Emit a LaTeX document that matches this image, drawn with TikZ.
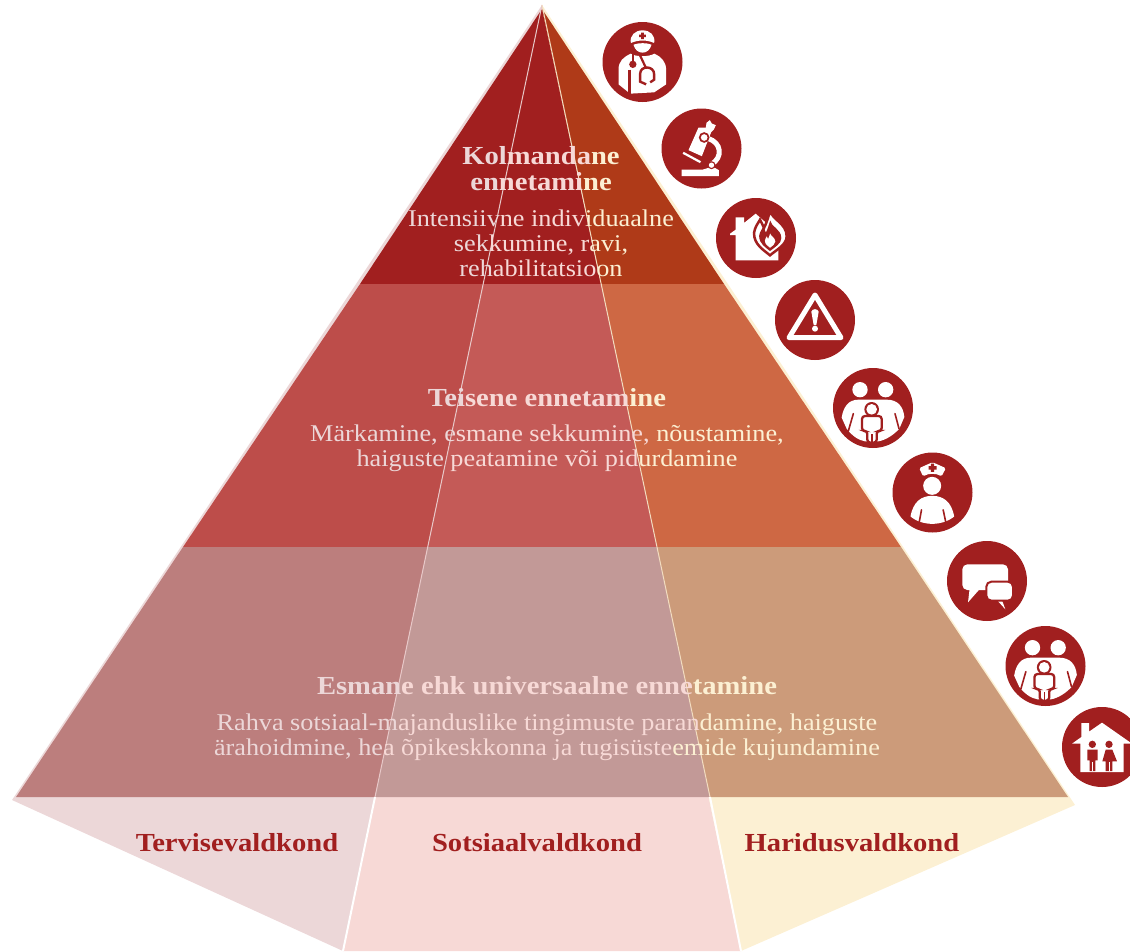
\documentclass[tikz,border=0pt]{standalone}
\usepackage{fontspec}
\setmainfont{Liberation Serif}[FakeStretch=1.093,BoldFeatures={FakeStretch=1.10}]
\definecolor{iconred}{HTML}{A11F1F}
\definecolor{wedgeA}{HTML}{ECD7D8}
\definecolor{wedgeB}{HTML}{F7D9D6}
\definecolor{wedgeC}{HTML}{FCF0D3}
\definecolor{topA}{HTML}{A11F1F}
\definecolor{topC}{HTML}{AF3A18}
\definecolor{midA}{HTML}{BD4D4A}
\definecolor{midB}{HTML}{C45A57}
\definecolor{midC}{HTML}{CE6844}
\definecolor{lowA}{HTML}{BC7E7D}
\definecolor{lowB}{HTML}{C29997}
\definecolor{lowC}{HTML}{CC9B7A}
\definecolor{lineA}{HTML}{E8C8C8}
\definecolor{lineC}{HTML}{F2DCC0}
\newcommand{\colA}{\color{wedgeA}}
\newcommand{\colB}{\color{wedgeB}}
\newcommand{\colC}{\color{wedgeC}}
\newcommand{\flameshape}{(1,-77) .. controls (5,-50) and (50,-40) .. (50,0) .. controls (50,25) and (20,40) .. (0,57) .. controls (-20,40) and (-48,25) .. (-48,-10) .. controls (-45,-30) and (-35,-40) .. (-30,-50) .. controls (-25,-40) and (-20,-30) .. (-18,-25) .. controls (-10,-40) and (-5,-60) .. (1,-77) -- cycle}
\tikzset{
  zoomed/.style n args={2}{x=0.3333pt,y=-0.3333pt,shift={(-#1,-#2)}},
  disc/.style={fill=iconred,draw=none},
  bold head/.style={font=\fontsize{26}{26}\selectfont\bfseries,align=center,anchor=base,inner sep=0pt},
  body text/.style={font=\fontsize{24}{25}\selectfont,align=center,anchor=base,inner sep=0pt},
  field label/.style={font=\fontsize{26}{26}\selectfont\bfseries,text=iconred,anchor=base,inner sep=0pt},
  slit/.style={iconred,line width=1.6pt,line cap=round},
  pics/doctor/.style={code={
    \fill[disc] (0,0) circle (40pt);
    \begin{scope}[zoomed={157}{155}]
      \fill[white] (122,98) .. controls (118,75) and (135,60) .. (157,60) .. controls (180,60) and (196,75) .. (192,98) .. controls (170,88) and (145,88) .. (122,98) -- cycle;
      \fill[iconred] (153,67) rectangle (161,86) (147,73) rectangle (167,80);
      \fill[white] (130,103) .. controls (145,97) and (170,97) .. (184,103) .. controls (180,118) and (170,127) .. (157,127) .. controls (144,127) and (134,118) .. (130,103) -- cycle;
      \fill[white] (85,222) -- (85,178) .. controls (85,152) and (100,140) .. (122,130) .. controls (135,140) and (178,140) .. (192,130) .. controls (215,140) and (228,155) .. (228,180) -- (228,222) -- (192,246) -- (120,250) -- cycle;
      \draw[iconred,line width=2.4pt] (118,178) -- (118,256);
      \draw[iconred,line width=2.2pt] (128,132) -- (128,155);
      \fill[iconred] (128,162) circle (11);
      \draw[iconred,line width=2.4pt] (168,222) -- (150,214) -- (150,190) .. controls (150,165) and (192,165) .. (192,192) -- (192,208) -- (180,216);
      \draw[iconred,line width=2.2pt] (150,136) -- (167,172);
    \end{scope}
  }},
  pics/microscope/.style={code={
    \fill[disc] (0,0) circle (40pt);
    \begin{scope}[zoomed={335}{415}]
      \fill[white] (275,498) -- (275,478) -- (340,478) .. controls (350,478) and (355,470) .. (365,470) .. controls (375,470) and (380,478) .. (387,480) -- (387,498) -- cycle;
      \draw[white,line width=5pt] (355,385) .. controls (395,397) and (400,442) .. (365,462);
      \fill[white] (296,420) -- (326,352) -- (348,352) -- (350,338) -- (360,330) -- (366,340) -- (378,345) -- (372,358) -- (364,366) -- (336,438) -- cycle;
      \draw[white,line width=2.2pt] (280,428) -- (332,456);
      \fill[iconred] (343,382) circle (16);
      \fill[white] (343,382) circle (10);
      \fill[iconred] (365,465) circle (12);
      \fill[white] (365,465) circle (8);
    \end{scope}
  }},
  pics/firehouse/.style={code={
    \fill[disc] (0,0) circle (40pt);
    \begin{scope}[zoomed={498}{685}]
      \fill[white] (420,672) -- (437,660) -- (437,623) -- (462,623) -- (462,640) -- (497,612) -- (565,672) -- (565,752) -- (437,752) -- (437,676) -- (420,676) -- cycle;
      \begin{scope}[shift={(540,680)}]
        \draw[iconred,line width=2.5pt,fill=white] \flameshape;
        \begin{scope}[scale=.68,shift={(0,8)}]\fill[iconred] \flameshape;\end{scope}
        \begin{scope}[scale=.32,shift={(0,50)}]\fill[white] \flameshape;\end{scope}
      \end{scope}
    \end{scope}
  }},
  pics/warning/.style={code={
    \fill[disc] (0,0) circle (40pt);
    \begin{scope}[zoomed={675}{930}]
      \draw[white,line width=5pt,line join=round] (675,855) -- (597,983) -- (753,983) -- cycle;
      \fill[white] (664,905) .. controls (666,895) and (684,895) .. (686,905) -- (679,945) -- (671,945) -- cycle;
      \fill[white] (675,956) circle (9);
    \end{scope}
  }},
  pics/family/.style={code={
    \fill[disc] (0,0) circle (40pt);
    \begin{scope}[zoomed={159}{143}]
      \fill[white] (120,88) circle (23) (197,88) circle (23);
      \fill[white] (65,172) .. controls (70,140) and (85,118) .. (115,118) -- (200,118) .. controls (235,118) and (250,140) .. (253,170) -- (238,205) .. controls (220,225) and (195,240) .. (175,243) -- (135,243) .. controls (115,240) and (95,225) .. (80,205) -- cycle;
      \draw[slit] (100,160) -- (85,212);
      \draw[slit] (225,160) -- (237,205);
      \fill[iconred] (155,147) circle (22);
      \fill[white] (155,147) circle (16);
      \draw[iconred,line width=2.3pt,fill=white,rounded corners=3pt] (126,167) -- (185,167) -- (185,212) -- (170,212) -- (170,247) -- (142,247) -- (142,212) -- (126,212) -- cycle;
      \draw[iconred,line width=1.2pt] (156,222) -- (156,247);
    \end{scope}
  }},
  pics/nurse/.style={code={
    \fill[disc] (0,0) circle (40pt);
    \begin{scope}[zoomed={338}{398}]
      \fill[white,rounded corners=1.5pt] (298,325) -- (338,307) -- (378,325) -- (365,350) .. controls (350,340) and (325,340) .. (310,350) -- cycle;
      \fill[iconred] (333,311) rectangle (343,336) (326,319) rectangle (350,329);
      \fill[white] (337,378) circle (27);
      \fill[white] (272,470) .. controls (280,425) and (305,408) .. (337,408) .. controls (370,408) and (395,425) .. (403,470) .. controls (385,485) and (360,492) .. (337,492) .. controls (315,492) and (290,485) .. (272,470) -- cycle;
      \draw[slit] (305,450) -- (298,488);
      \draw[slit] (370,450) -- (378,488);
    \end{scope}
  }},
  pics/chat/.style={code={
    \fill[disc] (0,0) circle (40pt);
    \begin{scope}[zoomed={502}{663}]
      \fill[white,rounded corners=5pt] (428,613) rectangle (565,690);
      \fill[white] (450,685) -- (445,727) -- (482,685) -- cycle;
      \fill[white] (530,718) -- (557,748) -- (546,718) -- cycle;
      \draw[iconred,line width=2pt,fill=white,rounded corners=5pt] (500,665) rectangle (580,722);
    \end{scope}
  }},
  pics/homefolk/.style={code={
    \fill[disc] (0,0) circle (40pt);
    \begin{scope}[zoomed={847}{1160}]
      \fill[white] (847,1087) -- (808,1114) -- (808,1088) -- (785,1088) -- (785,1130) -- (757,1150) -- (782,1150) -- (782,1235) -- (912,1235) -- (912,1150) -- (937,1150) -- cycle;
      \fill[iconred] (818,1152) circle (11) (868,1152) circle (11);
      \fill[iconred] (803,1168) rectangle (834,1200) (810,1200) rectangle (827,1232);
      \fill[iconred] (858,1168) -- (878,1168) -- (892,1203) -- (848,1203) -- cycle (858,1203) rectangle (878,1232);
      \draw[white,line width=.8pt] (818.5,1205) -- (818.5,1232) (868,1205) -- (868,1232);
    \end{scope}
  }}
}
\begin{document}
\begin{tikzpicture}[x=1pt,y=-1pt]
\useasboundingbox (0,0) rectangle (1130,951);
\clip (0,0) rectangle (1130,951);
% shared points
\coordinate (apex) at (542,5);
\coordinate (bandapex) at (542,9);
\coordinate (wl) at (12,800);
\coordinate (wr) at (1075,805);
\coordinate (bl) at (343,951);
\coordinate (br) at (741,951);
\coordinate (la) at (360,284); \coordinate (lb) at (183,547); \coordinate (lc) at (16,797);
\coordinate (ma) at (483,284);   \coordinate (mb) at (427.5,547); \coordinate (mc) at (375,797);
\coordinate (na) at (601,284);   \coordinate (nb) at (657,547); \coordinate (nc) at (710,797);
\coordinate (ra) at (724,284);   \coordinate (rb) at (901,547); \coordinate (rc) at (1068,797);
% wedges
\fill[wedgeA] (apex) -- (wl) -- (bl) -- cycle;
\fill[wedgeB] (apex) -- (bl) -- (br) -- cycle;
\fill[wedgeC] (apex) -- (wr) -- (br) -- cycle;
% bands
\fill[topA] (bandapex) -- (la) -- (na) -- cycle;
\fill[topC] (bandapex) -- (na) -- (ra) -- cycle;
\fill[midA] (la) -- (lb) -- (mb) -- (ma) -- cycle;
\fill[midB] (ma) -- (mb) -- (nb) -- (na) -- cycle;
\fill[midC] (na) -- (nb) -- (rb) -- (ra) -- cycle;
\fill[lowA] (lb) -- (lc) -- (mc) -- (mb) -- cycle;
\fill[lowB] (mb) -- (mc) -- (nc) -- (nb) -- cycle;
\fill[lowC] (nb) -- (nc) -- (rc) -- (rb) -- cycle;
% dividers
\draw[lineA,line width=1pt] (apex) -- (mc);
\draw[lineC,line width=1pt] (apex) -- (nc);
\draw[white,line width=2pt] (mc) -- (bl);
\draw[white,line width=2pt] (nc) -- (br);
% text
\node[bold head] (t1) at (541,190) {{\colA Kol}{\colB manda}{\colC ne}\\{\colA en}{\colB netami}{\colC ne}};
\node[body text] (b1) at (541,276) {{\colA Intensiiv}{\colB ne indiv}{\colC iduaalne}\\{\colA sek}{\colB kumine, r}{\colC avi,}\\{\colA reh}{\colB abilitatsio}{\colC on}};
\node[bold head] (t2) at (547,406) {{\colA Tei}{\colB sene ennetam}{\colC ine}};
\node[body text] (b2) at (547,466) {{\colA Märkamine, e}{\colB smane sekkumine, }{\colC nõustamine,}\\{\colA haiguste}{\colB\ peatamine või pid}{\colC urdamine}};
\node[bold head] (t3) at (547,694) {{\colA Esman}{\colB e ehk universaalne enne}{\colC tamine}};
\node[body text] (b3) at (547,755) {{\colA Rahva sotsiaal-m}{\colB ajanduslike tingimuste paran}{\colC damine, haiguste}\\{\colA ärahoidmine, he}{\colB a õpikeskkonna ja tugisüste}{\colC emide kujundamine}};
\node[field label] (f1) at (237,851) {Tervisevaldkond};
\node[field label] (f2) at (537,851) {Sotsiaalvaldkond};
\node[field label] (f3) at (852,851) {Haridusvaldkond};
% icons
\pic at (642.5,62) {doctor};
\pic at (701.5,148.5) {microscope};
\pic at (756,238) {firehouse};
\pic at (815,320) {warning};
\pic at (873,408) {family};
\pic at (932.5,492.5) {nurse};
\pic at (987,581) {chat};
\pic at (1045.5,666) {family};
\pic at (1102,747) {homefolk};
\end{tikzpicture}
\end{document}
